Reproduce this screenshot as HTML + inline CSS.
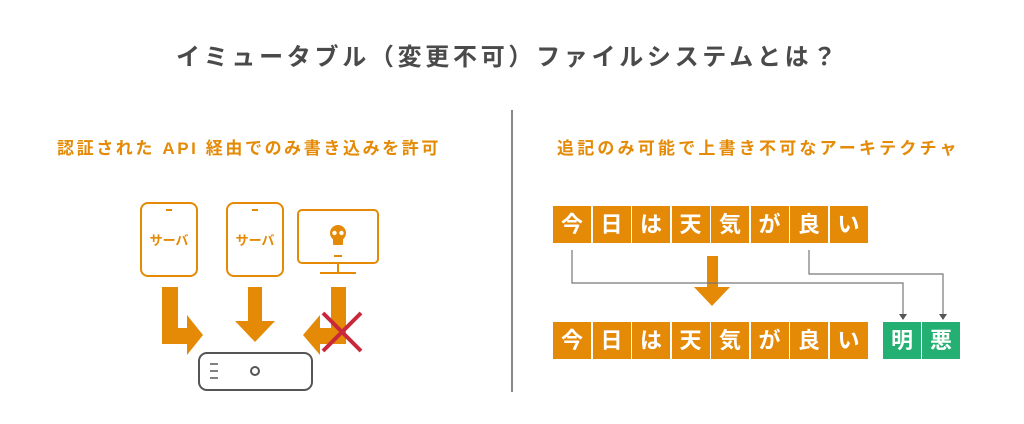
<!DOCTYPE html>
<html><head><meta charset="utf-8"><style>
body{margin:0;width:1024px;height:424px;background:#fff;overflow:hidden;position:relative;font-family:"Liberation Sans","Noto Sans CJK JP",sans-serif}
.t{position:absolute;white-space:nowrap;font-weight:bold}
.b{position:absolute;width:38px;height:37px;background:#e48a06;color:#fff;font-weight:bold;font-size:22px;line-height:37px;text-align:center}
.g{background:#25b073}
</style></head><body>
<div class="t" style="left:176px;top:37px;font-size:24px;letter-spacing:3.7px;color:#4a4a4a">イミュータブル（変更不可）ファイルシステムとは？</div>
<div class="t" style="left:57px;top:134px;font-size:17px;letter-spacing:2.6px;color:#e48a06">認証された API 経由でのみ書き込みを許可</div>
<div class="t" style="left:557px;top:134px;font-size:17px;letter-spacing:3.2px;color:#e48a06">追記のみ可能で上書き不可なアーキテクチャ</div>
<div style="position:absolute;left:511px;top:110px;width:1.5px;height:282px;background:#888"></div>
<svg width="1024" height="424" style="position:absolute;left:0;top:0">
<g fill="none" stroke="#e48a06" stroke-width="2">
<rect x="141" y="203" width="56" height="73" rx="7"/>
<rect x="227" y="203" width="56" height="73" rx="7"/>
<rect x="298" y="210" width="80" height="53" rx="4"/>
<line x1="166" y1="210" x2="172" y2="210"/><line x1="252" y1="210" x2="258" y2="210"/>
<line x1="334" y1="256" x2="342" y2="256"/>
<line x1="338" y1="263" x2="338" y2="272"/><line x1="320" y1="273" x2="356" y2="273"/>
</g>
<text x="169" y="245" font-size="13" font-weight="bold" fill="#e48a06" text-anchor="middle">サーバ</text>
<text x="255" y="245" font-size="13" font-weight="bold" fill="#e48a06" text-anchor="middle">サーバ</text>
<g fill="#e48a06">
<circle cx="338" cy="233" r="8"/>
<rect x="333" y="236" width="10" height="9" rx="1"/>
</g>
<g fill="#fff"><circle cx="334.5" cy="233" r="2.2"/><circle cx="341.5" cy="233" r="2.2"/></g>
<g fill="#e48a06">
<polygon points="162,287 178,287 178,328 187,328 187,315 203,335 187,355 187,344 162,344"/>
<polygon points="248,287 262,287 262,321 275,321 255,342 235,321 248,321"/>
<polygon points="331,287 346,287 346,344 320,344 320,355 303,335 320,315 320,328 331,328"/>
<polygon points="707,256 718,256 718,287 730,287 712,306 694,287 707,287"/>
</g>
<g stroke="#c8283a" stroke-width="4"><line x1="323" y1="313" x2="361" y2="351"/><line x1="361" y1="313" x2="323" y2="351"/></g>
<rect x="199" y="353" width="113" height="37" rx="8" fill="none" stroke="#555" stroke-width="2"/>
<g stroke="#555" stroke-width="1.5"><line x1="210" y1="364" x2="218" y2="364"/><line x1="210" y1="371" x2="218" y2="371"/><line x1="210" y1="378" x2="218" y2="378"/></g>
<circle cx="255" cy="371" r="4" fill="none" stroke="#555" stroke-width="2"/>
<g fill="none" stroke="#777" stroke-width="1.2">
<polyline points="572,250 572,283 903,283 903,316"/>
<polyline points="809,250 809,274 943,274 943,316"/>
</g>
<g fill="#555"><polygon points="899,314 907,314 903,320"/><polygon points="939,314 947,314 943,320"/></g>
</svg>
<div class="b" style="left:553px;top:206px">今</div><div class="b" style="left:592.5px;top:206px">日</div><div class="b" style="left:632px;top:206px">は</div><div class="b" style="left:671.5px;top:206px">天</div><div class="b" style="left:711px;top:206px">気</div><div class="b" style="left:750.5px;top:206px">が</div><div class="b" style="left:790px;top:206px">良</div><div class="b" style="left:829.5px;top:206px">い</div>
<div class="b" style="left:553px;top:322px">今</div><div class="b" style="left:592.5px;top:322px">日</div><div class="b" style="left:632px;top:322px">は</div><div class="b" style="left:671.5px;top:322px">天</div><div class="b" style="left:711px;top:322px">気</div><div class="b" style="left:750.5px;top:322px">が</div><div class="b" style="left:790px;top:322px">良</div><div class="b" style="left:829.5px;top:322px">い</div>
<div class="b g" style="left:883px;top:322px">明</div><div class="b g" style="left:922px;top:322px">悪</div>
</body></html>
